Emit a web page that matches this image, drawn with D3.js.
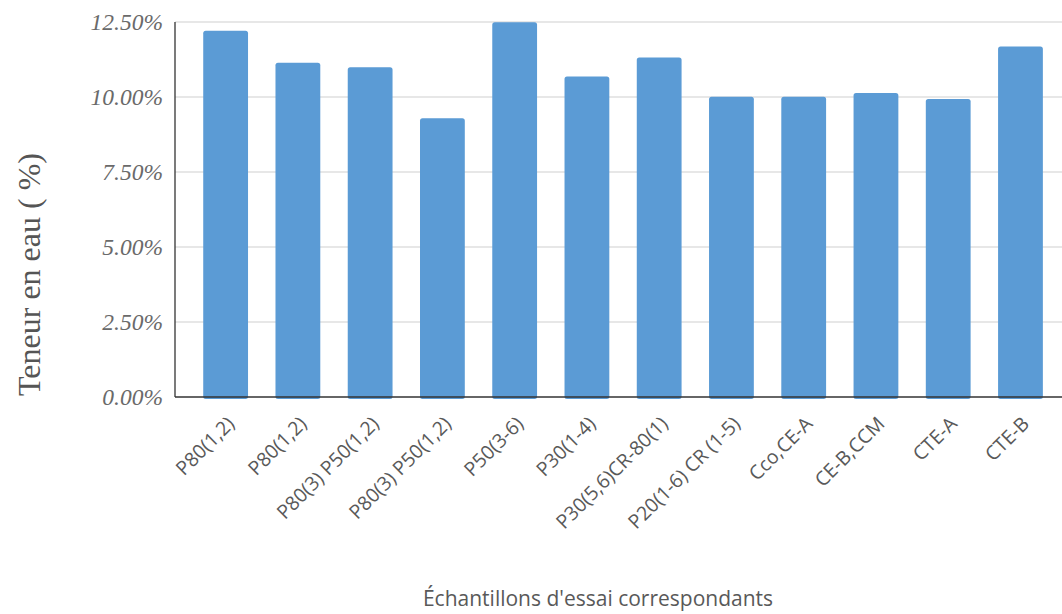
<!DOCTYPE html>
<html>
<head>
<meta charset="utf-8">
<script src="https://cdn.jsdelivr.net/npm/d3@7"></script>
<style>
  body { margin: 0; background: #fff; }
</style>
</head>
<body>
<div id="chart"></div>
<script>
// data
const categories = ["P80(1,2)", "P80(1,2)", "P80(3) P50(1,2)", "P80(3) P50(1,2)", "P50(3-6)", "P30(1-4)",
  "P30(5,6)CR-80(1)", "P20(1-6) CR (1-5)", "Cco,CE-A", "CE-B,CCM", "CTE-A", "CTE-B"];
const teneur = [12.21, 11.14, 10.99, 9.29, 12.49, 10.68, 11.32, 10.01, 10.01, 10.13, 9.93, 11.68];
const yTicks = [0, 2.5, 5, 7.5, 10, 12.5];

const width = 1062, height = 614;
const axisLeft = 175, bandLeft = 189.5, bandRight = 1056.6,
    plotTop = 22, plotBottom = 397;

const svg = d3.select("#chart")
  .append("svg")
    .attr("width", width)
    .attr("height", height);

const x = d3.scaleBand()
    .domain(d3.range(categories.length))
    .range([bandLeft, bandRight])
    .paddingInner(0.38)
    .paddingOuter(0.19);

const y = d3.scaleLinear()
    .domain([0, 12.5])
    .range([plotBottom, plotTop]);

// gridlines
svg.append("g")
  .selectAll("line")
  .data(yTicks.filter(d => d > 0))
  .join("line")
    .attr("x1", axisLeft)
    .attr("x2", width)
    .attr("y1", d => y(d))
    .attr("y2", d => y(d))
    .attr("stroke", "#cfcfcf")
    .attr("stroke-width", 1.2);

// bars
svg.append("g")
  .selectAll("rect")
  .data(teneur)
  .join("rect")
    .attr("x", (d, i) => x(i))
    .attr("y", d => y(d))
    .attr("width", x.bandwidth())
    .attr("height", d => plotBottom - y(d) + 2)
    .attr("rx", 2.5)
    .attr("fill", "#5b9bd5");

// axis lines
svg.append("line")
    .attr("x1", axisLeft).attr("x2", axisLeft)
    .attr("y1", plotTop).attr("y2", plotBottom)
    .attr("stroke", "#333").attr("stroke-width", 1.3);
svg.append("line")
    .attr("x1", axisLeft).attr("x2", width)
    .attr("y1", plotBottom).attr("y2", plotBottom)
    .attr("stroke", "#333").attr("stroke-width", 1.5);

// y tick labels
svg.append("g")
  .selectAll("text")
  .data(yTicks)
  .join("text")
    .attr("x", 163)
    .attr("y", d => y(d))
    .attr("dy", "0.35em")
    .attr("text-anchor", "end")
    .attr("font-family", "'Liberation Serif', 'DejaVu Serif', serif")
    .attr("font-style", "italic")
    .attr("font-size", 23.5)
    .attr("fill", "#6a6a6a")
    .text(d => d.toFixed(2) + "%");

// x tick labels
svg.append("g")
  .selectAll("text")
  .data(categories)
  .join("text")
    .attr("transform", (d, i) => `translate(${x(i) + x.bandwidth() / 2 + 10},${plotBottom + 28}) rotate(-45)`)
    .attr("text-anchor", "end")
    .attr("font-family", "'Open Sans', 'Noto Sans', sans-serif")
    .attr("font-size", 19.5)
    .attr("fill", "#595959")
    .text(d => d);

// axis titles
svg.append("text")
    .attr("transform", `translate(40,${(plotTop + plotBottom) / 2 + 65}) rotate(-90)`)
    .attr("text-anchor", "middle")
    .attr("font-family", "'Liberation Serif', serif")
    .attr("font-size", 32)
    .attr("fill", "#555")
    .text("Teneur en eau ( %)");

svg.append("text")
    .attr("x", 598)
    .attr("y", 606)
    .attr("text-anchor", "middle")
    .attr("font-family", "'Open Sans', 'Noto Sans', sans-serif")
    .attr("font-size", 21)
    .attr("fill", "#595959")
    .text("Échantillons d'essai correspondants");
</script>
</body>
</html>
